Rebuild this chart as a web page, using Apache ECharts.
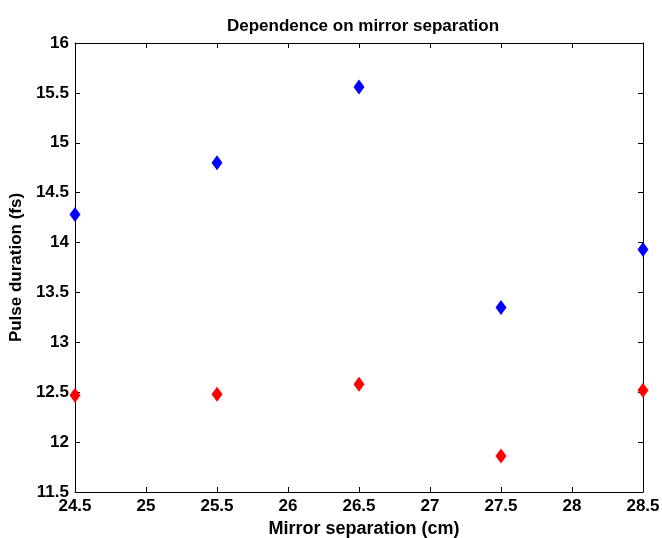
<!DOCTYPE html>
<html><head><meta charset="utf-8">
<script src="https://cdn.jsdelivr.net/npm/echarts@6/dist/echarts.min.js"></script>
<style>html,body{margin:0;padding:0;background:#fff}#c{width:662px;height:538px}</style>
</head><body><div id="c"></div>
<script>
var separations = [24.5, 25.5, 26.5, 27.5, 28.5];
var blueDurations = [14.28, 14.80, 15.56, 13.35, 13.93];
var redDurations = [12.47, 12.48, 12.58, 11.86, 12.52];
var xTicks = [24.5, 25, 25.5, 26, 26.5, 27, 27.5, 28, 28.5];
var yTicks = [11.5, 12, 12.5, 13, 13.5, 14, 14.5, 15, 15.5, 16];

var font = 'Liberation Sans, Arial, sans-serif';
var chart = echarts.init(document.getElementById('c'), null, {renderer: 'canvas'});
function pairs(xs, ys) { return xs.map(function (x, i) { return [x, ys[i]]; }); }
var axisCommon = {
  axisLine: {show: true, onZero: false, lineStyle: {color: '#000', width: 1}},
  axisTick: {show: true, inside: true, length: 5, lineStyle: {color: '#000'}},
  splitLine: {show: false}
};
chart.setOption({
  animation: false,
  backgroundColor: '#fff',
  title: {
    text: 'Dependence on mirror separation', left: 358, top: 13, textAlign: 'center',
    textStyle: {fontFamily: font, fontWeight: 'bold', fontSize: 17, color: '#000'}
  },
  grid: {left: 75, right: 19, top: 43, bottom: 46, containLabel: false, outerBoundsMode: 'none'},
  xAxis: [
    Object.assign({
      type: 'value', min: xTicks[0], max: xTicks[xTicks.length - 1], interval: 0.5,
      name: 'Mirror separation (cm)', nameLocation: 'middle', nameGap: 25,
      nameTextStyle: {fontFamily: font, fontWeight: 'bold', fontSize: 18, color: '#000', padding: [0, 0, 0, 10]},
      axisLabel: {fontFamily: font, fontWeight: 'bold', fontSize: 17, color: '#000', margin: 6,
        formatter: function (v) { return String(v); }}
    }, axisCommon),
    Object.assign({
      type: 'value', position: 'top', min: xTicks[0], max: xTicks[xTicks.length - 1], interval: 0.5,
      axisLabel: {show: false}
    }, axisCommon)
  ],
  yAxis: [
    Object.assign({
      type: 'value', min: yTicks[0], max: yTicks[yTicks.length - 1], interval: 0.5,
      name: 'Pulse duration (fs)', nameLocation: 'middle', nameGap: 40, nameRotate: 90,
      nameTextStyle: {fontFamily: font, fontWeight: 'bold', fontSize: 17, color: '#000'},
      axisLabel: {fontFamily: font, fontWeight: 'bold', fontSize: 17, color: '#000', margin: 6,
        formatter: function (v) { return String(v); }}
    }, axisCommon),
    Object.assign({
      type: 'value', position: 'right', min: yTicks[0], max: yTicks[yTicks.length - 1], interval: 0.5,
      axisLabel: {show: false}
    }, axisCommon)
  ],
  series: [
    {type: 'scatter', data: pairs(separations, blueDurations), symbol: 'diamond', symbolSize: [11, 15],
      itemStyle: {color: '#0000ff', opacity: 1}, clip: false, z: 5},
    {type: 'scatter', data: pairs(separations, redDurations), symbol: 'diamond', symbolSize: [11, 15],
      itemStyle: {color: '#ff0000', opacity: 1}, clip: false, z: 5}
  ]
});
</script></body></html>
